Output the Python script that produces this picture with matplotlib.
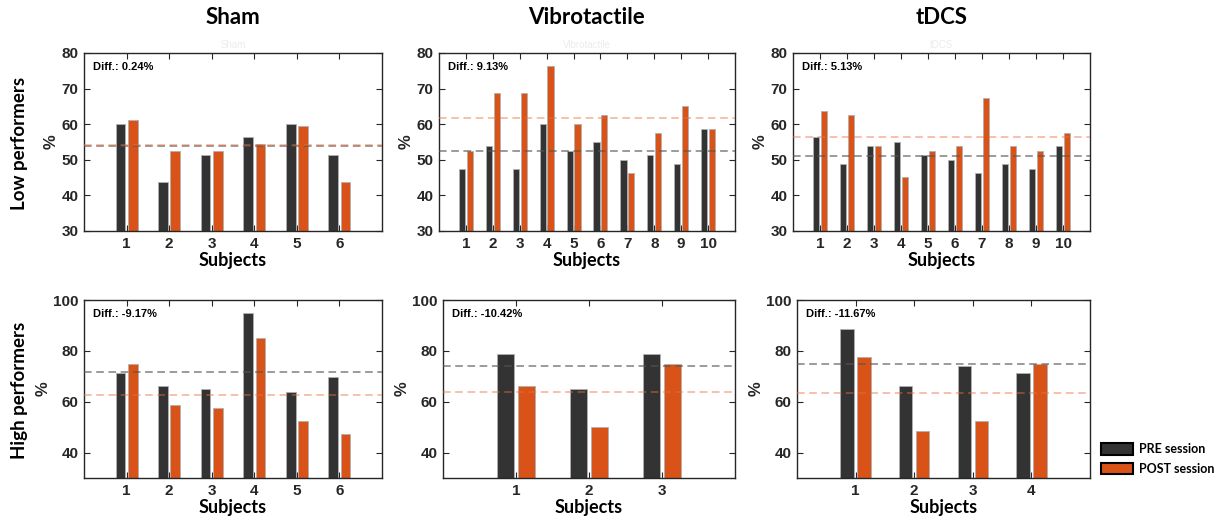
import numpy as np
import matplotlib.pyplot as plt
from matplotlib.patches import Patch

plt.rcParams["font.family"] = ["Liberation Sans", "DejaVu Sans"]

# DATA (percent correct per subject)
low_sham_pre = [60.0, 43.8, 51.3, 56.3, 60.0, 51.3]
low_sham_post = [61.3, 52.6, 52.6, 54.5, 59.6, 43.8]
low_vib_pre = [47.5, 53.8, 47.5, 60.0, 52.6, 55.0, 50.0, 51.3, 48.7, 58.7]
low_vib_post = [52.6, 68.8, 68.8, 76.3, 60.0, 62.6, 46.3, 57.5, 65.0, 58.7]
low_tdcs_pre = [56.3, 48.7, 53.8, 55.0, 51.3, 50.0, 46.3, 48.7, 47.5, 53.8]
low_tdcs_post = [63.8, 62.6, 53.8, 45.1, 52.6, 53.8, 67.5, 53.8, 52.6, 57.5]

high_sham_pre = [71.3, 66.1, 65.0, 95.0, 63.7, 69.9]
high_sham_post = [75.0, 58.7, 57.5, 85.0, 52.5, 47.4]
high_vib_pre = [78.7, 64.9, 78.7]
high_vib_post = [66.1, 49.9, 75.0]
high_tdcs_pre = [88.7, 66.1, 73.9, 71.4]
high_tdcs_post = [77.4, 48.6, 52.3, 75.0]

diff_labels = [["0.24%", "9.13%", "5.13%"], ["-9.17%", "-10.42%", "-11.67%"]]
col_titles = ["Sham", "Vibrotactile", "tDCS"]
row_titles = ["Low performers", "High performers"]

PRE_COLOR = "#333333"
POST_COLOR = "#D95319"
TXT = "#262626"
W, H = 1225, 528

fig = plt.figure(figsize=(W / 100, H / 100), dpi=100)

# pixel boxes (left, top, right, bottom) of each panel
boxes = [
    [(84, 53, 382, 231), (439, 53, 735, 231), (793, 53, 1090, 231)],
    [(84, 300, 382, 478), (443, 300, 735, 478), (797, 300, 1090, 478)],
]
data = [
    [(low_sham_pre, low_sham_post), (low_vib_pre, low_vib_post), (low_tdcs_pre, low_tdcs_post)],
    [(high_sham_pre, high_sham_post), (high_vib_pre, high_vib_post), (high_tdcs_pre, high_tdcs_post)],
]

for r in range(2):
    for c in range(3):
        l, t, rr, b = boxes[r][c]
        ax = fig.add_axes([l / W, 1 - b / H, (rr - l) / W, (b - t) / H])
        pre, post = data[r][c]
        n = len(pre)
        x = np.arange(1, n + 1)
        ax.bar(x - 0.145, pre, width=0.23, color=PRE_COLOR, edgecolor="#b0b0b0", linewidth=0.6, zorder=2)
        ax.bar(x + 0.145, post, width=0.23, color=POST_COLOR, edgecolor="#b0b0b0", linewidth=0.6, zorder=2)
        ax.axhline(np.mean(pre), color="#555555", ls=(0, (5, 3)), lw=1.1, alpha=0.75, zorder=3)
        ax.axhline(np.mean(post), color="#E8703F", ls=(0, (5, 3)), lw=1.1, alpha=0.55, zorder=3)
        ax.set_xlim(0, n + 1)
        ax.set_xticks(x)
        if r == 0:
            ax.set_ylim(30, 80)
            ax.set_yticks([30, 40, 50, 60, 70, 80])
        else:
            ax.set_ylim(30, 100)
            ax.set_yticks([40, 60, 80, 100])
        ax.tick_params(direction="in", top=True, right=True, length=4, width=0.8,
                       colors=TXT, labelsize=11, pad=4)
        for lab in ax.get_xticklabels() + ax.get_yticklabels():
            lab.set_fontweight("bold")
        for s in ax.spines.values():
            s.set_color(TXT)
            s.set_linewidth(1.0)
        ax.set_xlabel("Subjects", family="Lato", fontweight="bold", fontsize=13, labelpad=1, color="black")
        ax.set_ylabel("%", fontweight="bold", fontsize=12, labelpad=2, color=TXT)
        ax.text(0.03, 0.95, "Diff.: " + diff_labels[r][c], transform=ax.transAxes,
                ha="left", va="top", fontsize=8, fontweight="bold")
        if r == 0:
            ax.text(0.5, 1.015, col_titles[c], transform=ax.transAxes, ha="center", va="bottom",
                    fontsize=7, color="#ececec")
            fig.text(((l + rr) / 2) / W, 1 - 18 / H, col_titles[c], ha="center", va="center",
                     family="Lato", fontweight="bold", fontsize=16)

fig.text(20 / W, 1 - 143 / H, row_titles[0], rotation=90, ha="center", va="center",
         family="Lato", fontweight="bold", fontsize=13.5)
fig.text(20 / W, 1 - 390 / H, row_titles[1], rotation=90, ha="center", va="center",
         family="Lato", fontweight="bold", fontsize=13.5)

handles = [Patch(facecolor=PRE_COLOR, edgecolor="black", linewidth=1.5, label="PRE session"),
           Patch(facecolor=POST_COLOR, edgecolor="black", linewidth=1.5, label="POST session")]
fig.legend(handles=handles, loc="upper left", bbox_to_anchor=(1090 / W, 1 - 432 / H),
           frameon=False, handlelength=2.5, handleheight=1.0, labelspacing=0.6,
           handletextpad=0.5, prop={"family": "Lato", "weight": "bold", "size": 9})

fig.savefig("out.png", dpi=100)
